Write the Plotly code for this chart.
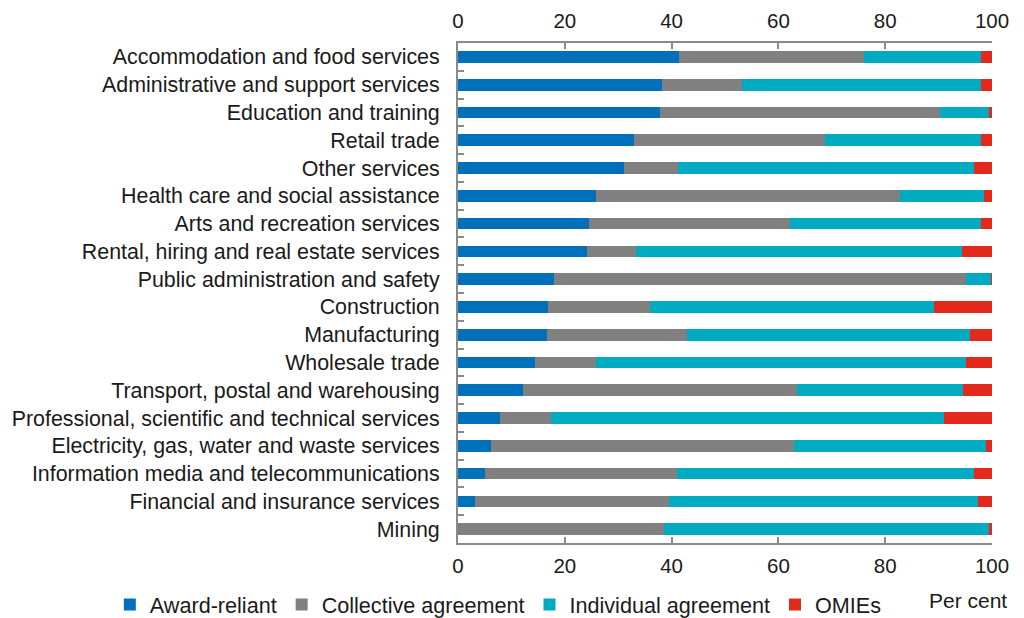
import plotly.graph_objects as go

categories = [
    "Accommodation and food services",
    "Administrative and support services",
    "Education and training",
    "Retail trade",
    "Other services",
    "Health care and social assistance",
    "Arts and recreation services",
    "Rental, hiring and real estate services",
    "Public administration and safety",
    "Construction",
    "Manufacturing",
    "Wholesale trade",
    "Transport, postal and warehousing",
    "Professional, scientific and technical services",
    "Electricity, gas, water and waste services",
    "Information media and telecommunications",
    "Financial and insurance services",
    "Mining",
]

award_reliant = [41.4, 38.2, 37.8, 32.9, 31.0, 25.8, 24.5, 24.2, 17.9, 16.9, 16.7, 14.4, 12.1, 7.8, 6.1, 5.1, 3.1, 0.0]
collective = [34.6, 15.0, 52.4, 35.8, 10.2, 56.9, 37.7, 9.2, 77.3, 19.0, 26.2, 11.4, 51.4, 9.6, 56.9, 36.0, 36.4, 38.5]
individual = [21.9, 44.8, 9.3, 29.2, 55.4, 15.8, 35.7, 60.9, 4.7, 53.2, 52.9, 69.4, 31.0, 73.7, 35.8, 55.6, 57.8, 61.0]
omies = [2.1, 2.0, 0.5, 2.1, 3.4, 1.5, 2.1, 5.7, 0.1, 10.9, 4.2, 4.8, 5.5, 8.9, 1.2, 3.3, 2.7, 0.5]

series_names = ["Award-reliant", "Collective agreement", "Individual agreement", "OMIEs"]
series_values = [award_reliant, collective, individual, omies]
colors = ["#0070BA", "#808080", "#00AAC0", "#E2291B"]

x_ticks = [0, 20, 40, 60, 80, 100]

FONT = "Liberation Sans, Arial, sans-serif"
TXT = "#1a1a1a"
AX = "#8a8a8a"

fig = go.Figure()
for name, vals, col in zip(series_names, series_values, colors):
    fig.add_trace(go.Bar(
        y=categories, x=vals, name=name, orientation="h",
        marker=dict(color=col, line=dict(width=0)),
        width=0.42,
    ))

# invisible trace to carry the top axis
fig.add_trace(go.Scatter(x=[None], y=[None], xaxis="x2", showlegend=False, hoverinfo="skip"))

axis_common = dict(
    range=[0, 100], tickvals=x_ticks, ticks="inside", ticklen=6, tickwidth=2,
    tickcolor=AX, showline=True, linecolor=AX, linewidth=2, showgrid=False,
    zeroline=False, tickfont=dict(family=FONT, size=20.5, color=TXT),
    automargin=False,
)

# page body has an 8px margin, so the figure is drawn 8px smaller
fig.update_layout(
    width=1016, height=610,
    paper_bgcolor="white", plot_bgcolor="white",
    margin=dict(l=450, r=32, t=35, b=75, autoexpand=False),
    barmode="stack",
    xaxis=dict(side="bottom", ticklabelstandoff=3, **axis_common),
    xaxis2=dict(side="top", overlaying="x", ticklabelstandoff=5, **axis_common),
    yaxis=dict(
        type="category", autorange="reversed", tickson="boundaries",
        ticks="inside", ticklen=6, tickwidth=2, tickcolor=AX,
        showline=True, linecolor=AX, linewidth=2, showgrid=False,
        tickfont=dict(family=FONT, size=21.4, color=TXT),
        ticklabelstandoff=12, automargin=False,
    ),
    legend=dict(
        orientation="h", xref="paper", yref="paper",
        x=-0.652, xanchor="left", y=-0.124, yanchor="middle",
        font=dict(family=FONT, size=21.6, color=TXT),
        itemwidth=30, traceorder="normal",
    ),
    font=dict(family=FONT, size=21, color=TXT),
    annotations=[dict(
        text="Per cent", xref="paper", yref="paper", x=0.955, y=-0.114,
        showarrow=False, font=dict(family=FONT, size=21, color=TXT),
        xanchor="center", yanchor="middle",
    )],
    showlegend=True,
)

fig.write_html("out.html")
